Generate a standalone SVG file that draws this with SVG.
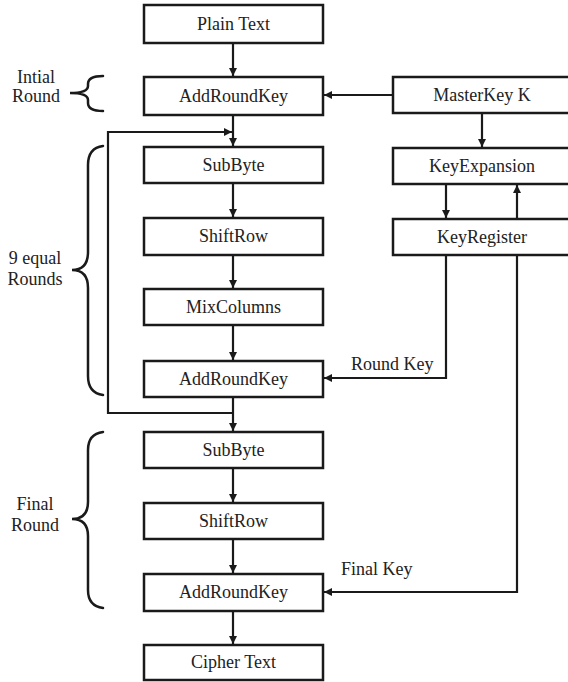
<svg xmlns="http://www.w3.org/2000/svg" width="568" height="682" viewBox="0 0 568 682">
<style>
.box{fill:#fff;stroke:#1a1a1a;stroke-width:2.5}
.t{font-family:"Liberation Serif","Times New Roman",serif;font-size:18px;fill:#222;text-anchor:middle}
.lbl{font-family:"Liberation Serif","Times New Roman",serif;font-size:18px;fill:#222}
.c{fill:none;stroke:#1a1a1a;stroke-width:2.2}
.br{fill:none;stroke:#1a1a1a;stroke-width:2.5;stroke-linecap:round}
</style>
<defs>
<marker id="ah" markerUnits="userSpaceOnUse" markerWidth="10" markerHeight="8" refX="8" refY="4" orient="auto">
<path d="M0,0 L8,4 L0,8 Z" fill="#1a1a1a"/>
</marker>
</defs>
<rect width="568" height="682" fill="#fff"/>
<g id="connectors">
<path class="c" d="M233 43 V76" marker-end="url(#ah)"/>
<path class="c" d="M233 115 V146" marker-end="url(#ah)"/>
<path class="c" d="M233 413 H108 V132 H232" marker-end="url(#ah)"/>
<path class="c" d="M233 183 V217" marker-end="url(#ah)"/>
<path class="c" d="M233 255 V288" marker-end="url(#ah)"/>
<path class="c" d="M233 325 V360" marker-end="url(#ah)"/>
<path class="c" d="M233 397 V431" marker-end="url(#ah)"/>
<path class="c" d="M233 468 V502" marker-end="url(#ah)"/>
<path class="c" d="M233 539 V573" marker-end="url(#ah)"/>
<path class="c" d="M233 611 V644" marker-end="url(#ah)"/>
<path class="c" d="M393 95 H324" marker-end="url(#ah)"/>
<path class="c" d="M482 113 V147" marker-end="url(#ah)"/>
<path class="c" d="M446 184 V218" marker-end="url(#ah)"/>
<path class="c" d="M517 219 V185" marker-end="url(#ah)"/>
<path class="c" d="M446 255 V378 H324" marker-end="url(#ah)"/>
<path class="c" d="M517 255 V592 H324" marker-end="url(#ah)"/>
<text class="lbl" x="351" y="370">Round Key</text>
<text class="lbl" x="341" y="575">Final Key</text>
</g>
<g id="braces">
<path class="br" d="M103 76 Q88 76 88 84 V86 Q88 93 70 93 Q88 93 88 100 V103 Q88 111 103 111"/>
<text class="t" x="36" y="83">Intial</text>
<text class="t" x="36" y="102">Round</text>
<path class="br" d="M103 146 Q88 148 88 165 V252 Q88 270 72 270 Q88 270 88 288 V376 Q88 393 103 395"/>
<text class="t" x="35" y="264">9 equal</text>
<text class="t" x="35" y="285">Rounds</text>
<path class="br" d="M103 432 Q88 434 88 450 V502 Q88 519 72 519 Q88 519 88 536 V590 Q88 606 103 608"/>
<text class="t" x="35" y="510">Final</text>
<text class="t" x="35" y="531">Round</text>
</g>
<g id="plaintext"><rect class="box" x="144" y="5" width="179" height="38"/><text class="t" x="233.5" y="30">Plain Text</text></g>
<g id="ark1"><rect class="box" x="144" y="77" width="179" height="38"/><text class="t" x="233.5" y="102">AddRoundKey</text></g>
<g id="subbyte1"><rect class="box" x="144" y="147" width="179" height="36"/><text class="t" x="233.5" y="171">SubByte</text></g>
<g id="shiftrow1"><rect class="box" x="144" y="218" width="179" height="37"/><text class="t" x="233.5" y="242">ShiftRow</text></g>
<g id="mixcolumns"><rect class="box" x="144" y="289" width="179" height="36"/><text class="t" x="233.5" y="313">MixColumns</text></g>
<g id="ark2"><rect class="box" x="144" y="361" width="179" height="36"/><text class="t" x="233.5" y="385">AddRoundKey</text></g>
<g id="subbyte2"><rect class="box" x="144" y="432" width="179" height="36"/><text class="t" x="233.5" y="456">SubByte</text></g>
<g id="shiftrow2"><rect class="box" x="144" y="503" width="179" height="36"/><text class="t" x="233.5" y="527">ShiftRow</text></g>
<g id="ark3"><rect class="box" x="144" y="574" width="179" height="37"/><text class="t" x="233.5" y="598">AddRoundKey</text></g>
<g id="ciphertext"><rect class="box" x="144" y="645" width="179" height="35"/><text class="t" x="233.5" y="668">Cipher Text</text></g>
<g id="masterkey"><rect class="box" x="393" y="77" width="182" height="36"/><text class="t" x="482" y="101">MasterKey K</text></g>
<g id="keyexpansion"><rect class="box" x="393" y="148" width="182" height="36"/><text class="t" x="482" y="172">KeyExpansion</text></g>
<g id="keyregister"><rect class="box" x="393" y="219" width="182" height="36"/><text class="t" x="482" y="243">KeyRegister</text></g>
</svg>
